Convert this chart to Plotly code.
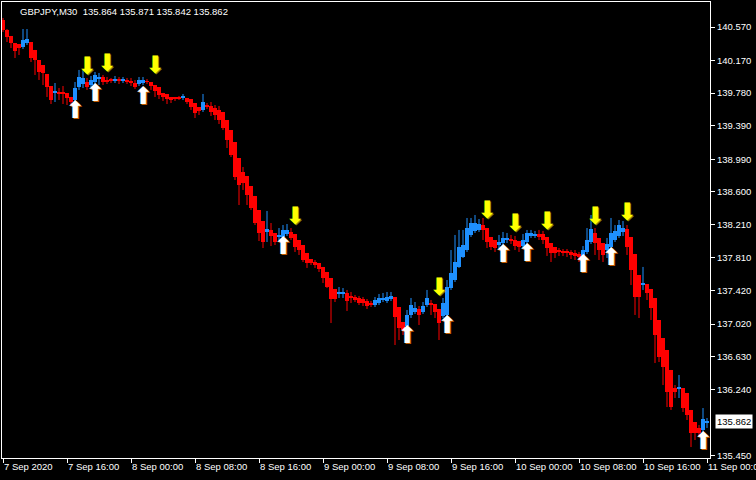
import plotly.graph_objects as go

ha_open = [140.654,140.535,140.463,140.379,140.367,140.331,140.379,140.391,140.296,140.176,
140.116,140.009,139.865,139.782,139.794,139.794,139.782,139.734,139.698,139.853,
139.889,139.913,139.877,139.913,139.949,139.973,139.937,139.937,139.925,139.937,
139.925,139.937,139.925,139.901,139.889,139.901,139.925,139.913,139.877,139.853,
139.782,139.770,139.734,139.734,139.734,139.722,139.722,139.710,139.662,139.614,
139.579,139.638,139.626,139.602,139.579,139.555,139.459,139.339,139.196,139.005,
138.838,138.790,138.670,138.551,138.383,138.252,138.121,138.145,138.109,138.061,
138.061,138.097,138.121,138.097,138.025,137.965,137.870,137.798,137.762,137.750,
137.703,137.643,137.571,137.440,137.380,137.380,137.392,137.344,137.344,137.332,
137.320,137.296,137.272,137.248,137.272,137.308,137.296,137.320,137.344,137.224,
137.045,136.997,137.129,137.165,137.201,137.165,137.248,137.272,137.260,137.201,
137.117,137.129,137.451,137.547,137.703,137.822,137.905,138.085,138.133,138.145,
138.204,138.168,138.061,138.025,137.965,137.989,138.025,138.037,138.025,138.013,
137.953,138.001,138.073,138.073,138.097,138.097,138.061,137.989,137.941,137.905,
137.894,137.882,137.882,137.870,137.858,137.822,137.882,138.001,138.109,138.049,
137.989,137.905,137.941,138.025,138.073,138.121,138.156,138.061,137.858,137.607,
137.487,137.499,137.440,137.332,137.069,136.854,136.711,136.472,136.256,136.244,
136.256,136.197,135.994,135.850,135.779,135.755,135.845]

ha_close = [140.535,140.451,140.379,140.284,140.319,140.415,140.427,140.200,140.176,140.033,
140.021,139.853,139.698,139.806,139.770,139.770,139.722,139.674,139.841,139.973,
139.961,139.853,139.937,139.997,139.973,139.913,139.913,139.925,139.949,139.925,
139.949,139.913,139.901,139.853,139.937,139.937,139.913,139.865,139.806,139.758,
139.734,139.710,139.698,139.710,139.710,139.734,139.674,139.614,139.543,139.567,
139.674,139.614,139.555,139.519,139.459,139.363,139.220,139.041,138.778,138.682,
138.706,138.563,138.407,138.228,138.109,138.001,138.156,138.073,138.001,138.085,
138.145,138.145,138.049,137.941,137.905,137.786,137.750,137.750,137.726,137.679,
137.571,137.463,137.320,137.320,137.404,137.404,137.296,137.332,137.308,137.272,
137.272,137.236,137.248,137.308,137.332,137.332,137.344,137.356,137.105,136.973,
136.950,137.129,137.248,137.212,137.129,137.236,137.332,137.248,137.165,137.033,
137.272,137.463,137.631,137.762,137.941,137.965,138.168,138.228,138.228,138.216,
138.145,138.001,137.941,137.929,138.001,138.049,138.049,138.013,137.953,137.941,
138.025,138.109,138.109,138.097,138.061,138.025,137.929,137.870,137.870,137.882,
137.870,137.870,137.846,137.834,137.822,137.905,138.025,138.156,137.989,137.905,
137.846,137.977,138.109,138.133,138.204,138.168,137.941,137.667,137.344,137.344,
137.511,137.392,137.212,136.890,136.627,136.507,136.209,136.029,136.209,136.268,
136.017,135.934,135.719,135.719,135.719,135.886,135.862]

ha_high = [140.678,140.546,140.463,140.379,140.367,140.546,140.546,140.391,140.296,140.176,
140.116,140.009,139.865,139.901,139.841,139.865,139.782,139.734,139.913,140.057,
140.057,139.961,139.985,140.033,140.021,139.997,139.973,139.961,139.985,139.973,
139.973,139.961,139.961,139.937,139.973,139.973,139.949,139.913,139.877,139.853,
139.782,139.770,139.734,139.734,139.746,139.770,139.722,139.710,139.662,139.614,
139.770,139.662,139.674,139.638,139.626,139.555,139.459,139.339,139.196,139.005,
138.897,138.790,138.670,138.551,138.383,138.252,138.372,138.228,138.109,138.168,
138.204,138.216,138.168,138.097,138.025,137.965,137.870,137.798,137.786,137.750,
137.703,137.643,137.571,137.440,137.463,137.451,137.428,137.404,137.368,137.356,
137.344,137.320,137.296,137.344,137.380,137.392,137.404,137.404,137.344,137.224,
137.045,137.189,137.332,137.284,137.236,137.284,137.428,137.308,137.260,137.201,
137.332,137.547,137.905,138.085,138.145,138.145,138.288,138.288,138.324,138.276,
138.288,138.168,138.061,138.025,138.085,138.121,138.109,138.085,138.073,138.013,
138.097,138.145,138.145,138.133,138.145,138.133,138.061,137.989,137.941,137.929,
137.917,137.917,137.905,137.905,137.882,137.953,138.168,138.324,138.168,138.049,
137.989,138.049,138.288,138.204,138.264,138.252,138.204,138.061,137.858,137.607,
137.703,137.499,137.440,137.332,137.069,136.854,136.711,136.472,136.292,136.412,
136.256,136.197,135.994,135.850,135.814,136.017,135.898]

ha_low = [140.511,140.391,140.319,140.200,140.236,140.307,140.355,140.152,139.997,139.937,
139.877,139.734,139.650,139.674,139.698,139.650,139.638,139.626,139.674,139.818,
139.841,139.818,139.853,139.889,139.877,139.877,139.889,139.901,139.901,139.889,
139.901,139.889,139.865,139.830,139.865,139.877,139.889,139.818,139.734,139.710,
139.686,139.650,139.662,139.686,139.698,139.698,139.650,139.579,139.483,139.519,
139.555,139.590,139.507,139.459,139.411,139.339,139.124,139.017,138.742,138.443,
138.623,138.443,138.383,138.204,138.013,137.929,138.001,137.953,137.965,138.025,
138.049,138.073,138.025,137.882,137.846,137.762,137.691,137.726,137.691,137.643,
137.511,137.451,137.033,137.284,137.332,137.332,137.177,137.272,137.284,137.248,
137.236,137.201,137.224,137.224,137.248,137.284,137.272,137.296,136.770,136.830,
136.890,136.973,137.093,137.141,137.009,137.141,137.224,137.129,137.093,136.830,
137.093,137.105,137.428,137.523,137.691,137.810,137.882,138.061,138.109,138.121,
138.025,137.929,137.905,137.882,137.929,137.965,137.989,137.977,137.905,137.882,
137.929,137.977,138.049,138.049,138.025,137.977,137.834,137.762,137.810,137.834,
137.834,137.822,137.798,137.786,137.762,137.810,137.858,137.977,137.846,137.786,
137.762,137.810,137.917,138.001,138.049,138.073,137.846,137.487,137.129,137.093,
137.428,137.308,137.069,136.555,136.567,136.292,136.029,135.994,136.137,136.137,
135.970,135.874,135.551,135.635,135.671,135.731,135.779]

up_arrow_bars = [18, 23, 35, 70, 101, 111, 125, 131, 145, 152, 175]
up_arrow_prices = [139.555, 139.758, 139.722, 137.929, 136.866, 136.985, 137.834, 137.846, 137.714, 137.798, 135.599]
down_arrow_bars = [21, 26, 38, 73, 109, 121, 128, 136, 148, 156]
down_arrow_prices = [140.080, 140.116, 140.092, 138.288, 137.440, 138.360, 138.204, 138.228, 138.288, 138.336]

time_tick_bars = [0, 16, 32, 48, 64, 80, 96, 112, 128, 144, 160, 176]
time_tick_labels = ["7 Sep 2020", "7 Sep 16:00", "8 Sep 00:00", "8 Sep 08:00", "8 Sep 16:00",
                    "9 Sep 00:00", "9 Sep 08:00", "9 Sep 16:00", "10 Sep 00:00", "10 Sep 08:00",
                    "10 Sep 16:00", "11 Sep 00:00"]
price_ticks = [140.570, 140.170, 139.780, 139.390, 138.990, 138.600, 138.210, 137.810,
               137.420, 137.020, 136.630, 136.240, 135.450]
last_price = 135.862
title_text = "GBPJPY,M30\u00a0\u00a0135.864 135.871 135.842 135.862"

RED = "#FF0000"
BLUE = "#1E90FF"

n = len(ha_open)
idx = list(range(n))

fig = go.Figure()

for color, is_bull in ((RED, False), (BLUE, True)):
    sel = [i for i in idx if (ha_close[i] >= ha_open[i]) == is_bull]
    wx, wy = [], []
    for i in sel:
        wx += [i, i, None]
        wy += [ha_low[i], ha_high[i], None]
    fig.add_trace(go.Scatter(x=wx, y=wy, mode="lines",
                             line=dict(color=color, width=1), hoverinfo="skip",
                             showlegend=False))
    fig.add_trace(go.Bar(x=sel,
                         base=[min(ha_open[i], ha_close[i]) for i in sel],
                         y=[max(abs(ha_close[i] - ha_open[i]), 0.010) for i in sel],
                         width=1.0, marker=dict(color=color, line=dict(width=0)),
                         showlegend=False, hoverinfo="skip"))

fig.add_trace(go.Scatter(x=up_arrow_bars, y=up_arrow_prices, mode="text",
                         text=["\u2B06"] * len(up_arrow_bars),
                         textfont=dict(family="DejaVu Sans", size=24, color="#FFFFFF",
                                       shadow="1px 1px 0px #C05A00"),
                         showlegend=False, hoverinfo="skip"))
fig.add_trace(go.Scatter(x=down_arrow_bars, y=down_arrow_prices, mode="text",
                         text=["\u2B07"] * len(down_arrow_bars),
                         textfont=dict(family="DejaVu Sans", size=24, color="#FFFF00",
                                       shadow="1px 1px 0px #8A8A00"),
                         showlegend=False, hoverinfo="skip"))

font = dict(family="Liberation Sans, Arial, sans-serif", size=9.5, color="#FFFFFF")

fig.update_layout(
    width=756, height=480,
    margin=dict(l=2, r=46, t=2, b=22, autoexpand=False),
    paper_bgcolor="#000000", plot_bgcolor="#000000",
    barmode="overlay", bargap=0,
    font=font,
    showlegend=False,
    xaxis=dict(range=[-0.25, n - 0.25], tickmode="array", tickvals=time_tick_bars,
               ticktext=time_tick_labels, ticks="outside", ticklen=4, tickcolor="#FFFFFF",
               showgrid=False, zeroline=False, showline=True, linecolor="#FFFFFF",
               linewidth=1, mirror=True, ticklabelposition="outside right",
               ticklabeloverflow="allow",
               tickangle=0, automargin=False, tickfont=font, fixedrange=True),
    yaxis=dict(range=[135.420, 140.869], side="right", tickmode="array",
               tickvals=price_ticks, ticktext=[f"{v:.3f}" for v in price_ticks],
               ticks="outside", ticklen=4, tickcolor="#FFFFFF", showgrid=False,
               zeroline=False, showline=True, linecolor="#FFFFFF", linewidth=1,
               mirror=True, automargin=False, tickfont=font, fixedrange=True),
    annotations=[
        dict(text=title_text, xref="paper", yref="paper", x=16 / 708, y=1,
             xanchor="left", yanchor="top", yshift=-2, showarrow=False,
             font=dict(family="Liberation Sans, Arial, sans-serif", size=9.5, color="#FFFFFF")),
        dict(text=f"{last_price:.3f}", xref="paper", yref="y", x=1, y=last_price,
             xanchor="left", yanchor="middle", xshift=5, showarrow=False,
             bgcolor="#FFFFFF", borderpad=1,
             font=dict(family="Liberation Sans, Arial, sans-serif", size=9.5, color="#000000")),
    ],
)

fig.write_html("out.html", config={"displayModeBar": False},
               post_script="document.body.style.margin='0';document.body.style.overflow='hidden';document.body.style.background='#000';")
